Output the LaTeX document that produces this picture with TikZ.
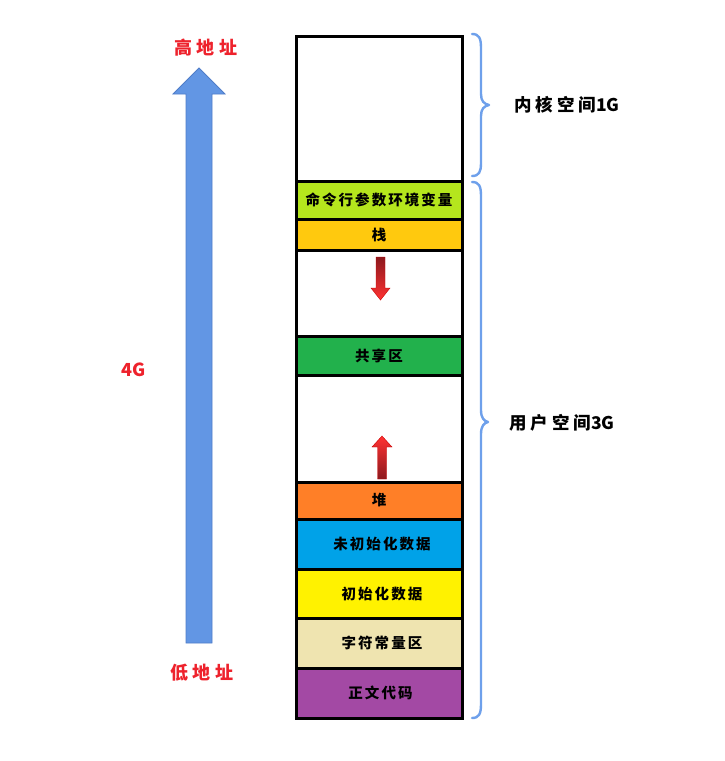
\documentclass[tikz,border=0pt]{standalone}
\usepackage{fontspec}
\newfontfamily\cjk[LetterSpace=14]{Noto Sans CJK SC}
\newfontfamily\cjkwide[LetterSpace=26]{Noto Sans CJK SC}
\newfontfamily\cjklabel[LetterSpace=22]{Noto Sans CJK SC}
\newfontfamily\cjkplain{Noto Sans CJK SC}
\definecolor{cmdc}{RGB}{181,230,29}
\definecolor{stackc}{RGB}{255,201,14}
\definecolor{sharec}{RGB}{34,177,76}
\definecolor{heapc}{RGB}{255,127,39}
\definecolor{bssc}{RGB}{0,162,232}
\definecolor{datac}{RGB}{255,242,0}
\definecolor{rodatac}{RGB}{239,228,176}
\definecolor{textc}{RGB}{163,73,164}
\definecolor{bigblue}{RGB}{98,150,228}
\definecolor{bigblueline}{RGB}{80,125,200}
\definecolor{bracec}{RGB}{110,160,235}
\definecolor{labred}{RGB}{238,34,44}
\definecolor{darkred}{RGB}{140,25,30}
\definecolor{brightred}{RGB}{255,50,50}
\begin{document}
\begin{tikzpicture}[x=1pt,y=-1pt,
  memrow/.style={draw=black,line width=3pt,minimum width=166pt,inner sep=0pt,
    font=\cjk\bfseries\fontsize{14.5}{15}\selectfont},
  bracestyle/.style={draw=bracec,line width=2.4pt,line cap=round,line join=round},
  redlab/.style={text=labred,font=\cjkwide\bfseries\fontsize{18}{19}\selectfont},
  sidelab/.style={text=black,font=\cjklabel\bfseries\fontsize{17.5}{19}\selectfont}]
\useasboundingbox (0,0) rectangle (724,761);
\fill[white] (0,0) rectangle (724,761);

% big blue arrow
\filldraw[fill=bigblue,draw=bigblueline,line width=0.8pt,line join=miter]
  (199,68) -- (225,94) -- (212,94) -- (212,643) -- (186,643) -- (186,94) -- (173,94) -- cycle;

% memory rows
\node[memrow,minimum height=145pt] (kernel) at (379,108.5) {};
\node[memrow,minimum height=38pt,fill=cmdc] (cmd) at (379,200) {命令行参数环境变量};
\node[memrow,minimum height=31pt,fill=stackc] (stack) at (379,234.5) {栈};
\node[memrow,minimum height=86pt] (gapa) at (379,293) {};
\node[memrow,minimum height=39pt,fill=sharec] (share) at (379,355.5) {共享区};
\node[memrow,minimum height=107pt] (gapb) at (379,428.5) {};
\node[memrow,minimum height=37pt,fill=heapc] (heap) at (379,500.5) {堆};
\node[memrow,minimum height=50pt,fill=bssc] (bss) at (379,544) {\hspace{6pt}未初始化数据};
\node[memrow,minimum height=49pt,fill=datac] (data) at (379,593.5) {\hspace{6pt}初始化数据};
\node[memrow,minimum height=50pt,fill=rodatac] (rodata) at (379,643) {\hspace{6pt}字符常量区};
\node[memrow,minimum height=50pt,fill=textc] (code) at (379,693) {\hspace{3pt}正文代码};

% growth arrows
\shadedraw[top color=darkred,bottom color=brightred,draw=red!80!black,line width=0.4pt]
  (376,257) -- (385,257) -- (385,288) -- (390,288) -- (380.5,300) -- (371,288) -- (376,288) -- cycle;
\shadedraw[top color=brightred,bottom color=darkred,draw=red!80!black,line width=0.4pt]
  (382,436) -- (392,447) -- (386.5,447) -- (386.5,479) -- (377.5,479) -- (377.5,447) -- (372,447) -- cycle;

% braces
\draw[bracestyle] (472,34) .. controls (479,34) and (481,38) .. (481,48) -- (481,94)
  .. controls (481,101) and (484,104) .. (489,105) .. controls (484,106) and (481,109) .. (481,116)
  -- (481,163) .. controls (481,172) and (479,176) .. (472,176);
\draw[bracestyle] (472,182) .. controls (479,182) and (481,186) .. (481,196) -- (481,410)
  .. controls (481,418) and (484,421) .. (488,422) .. controls (484,423) and (481,426) .. (481,434)
  -- (481,704) .. controls (481,714) and (479,718) .. (472,718);

% labels
\node[sidelab] (kernlab) at (567,105) {内核空间{\cjkplain 1G}};
\node[sidelab] (userlab) at (562,423) {用户空间{\cjkplain 3G}};
\node[redlab] (high) at (206,48) {高地址};
\node[redlab] (low) at (202,673) {低地址};
\node[text=labred,font=\cjkplain\bfseries\fontsize{18}{19}\selectfont] (four) at (134,370) {4G};
\end{tikzpicture}
\end{document}
